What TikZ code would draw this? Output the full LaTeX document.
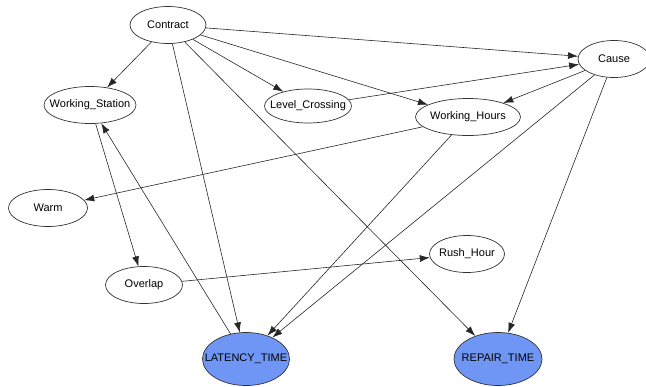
\documentclass[tikz,border=0pt]{standalone}
\usepackage{fontspec}
\setmainfont{Liberation Sans}
\usetikzlibrary{arrows.meta, shapes.geometric}
\definecolor{targetblue}{RGB}{112,150,245}
\newcommand{\vname}[1]{\makebox[0pt]{#1}}

\begin{document}
\begin{tikzpicture}[x=1pt, y=-1pt, >={Latex[length=10pt,width=7pt]},
    var/.style={ellipse, draw=black!80, line width=0.7pt, inner sep=0pt, minimum height=37pt,
        font=\fontsize{11}{13}\selectfont},
    target/.style={var, fill=targetblue, minimum height=53pt},
    edge/.style={->, draw=black!85, line width=0.6pt}]
    \useasboundingbox (0,0) rectangle (646,386);

    \node [var, minimum width=76pt] (contract) at (168,25) {\vname{Contract}};
    \node [var, minimum width=92pt] (station) at (90,105) {\vname{Working\_Station}};
    \node [var, minimum width=87pt, minimum height=34pt] (crossing) at (308,106) {\vname{Level\_Crossing}};
    \node [var, minimum width=105pt] (hours) at (468,117) {\vname{Working\_Hours}};
    \node [var, minimum width=72pt] (cause) at (614,59) {\vname{Cause}};
    \node [var, minimum width=79pt] (warm) at (48,208) {\vname{Warm}};
    \node [var, minimum width=77pt] (overlap) at (144,285) {\vname{Overlap}};
    \node [var, minimum width=75pt] (rush) at (467,254) {\vname{Rush\_Hour}};
    \node [target, minimum width=87pt] (latency) at (246,359) {\vname{LATENCY\_TIME}};
    \node [target, minimum width=88pt] (repair) at (498,359) {\vname{REPAIR\_TIME}};

    % from Contract
    \draw[edge] (contract) -- (station);
    \draw[edge] (contract) -- (crossing);
    \draw[edge] (contract) -- (hours);
    \draw[edge] (contract) -- (cause);
    \draw[edge] (contract) -- (latency);
    \draw[edge] (contract) -- (repair);

    % from Cause
    \draw[edge] (crossing) -- (cause);
    \draw[edge] (cause) -- (hours);
    \draw[edge] (cause) -- (latency);
    \draw[edge] (cause) -- (repair);

    \draw[edge] (hours) -- (warm);
    \draw[edge] (hours) -- (latency);
    \draw[edge] (station) -- (overlap);
    \draw[edge] (latency) -- (station);
    \draw[edge] (overlap) -- (rush);
\end{tikzpicture}
\end{document}
